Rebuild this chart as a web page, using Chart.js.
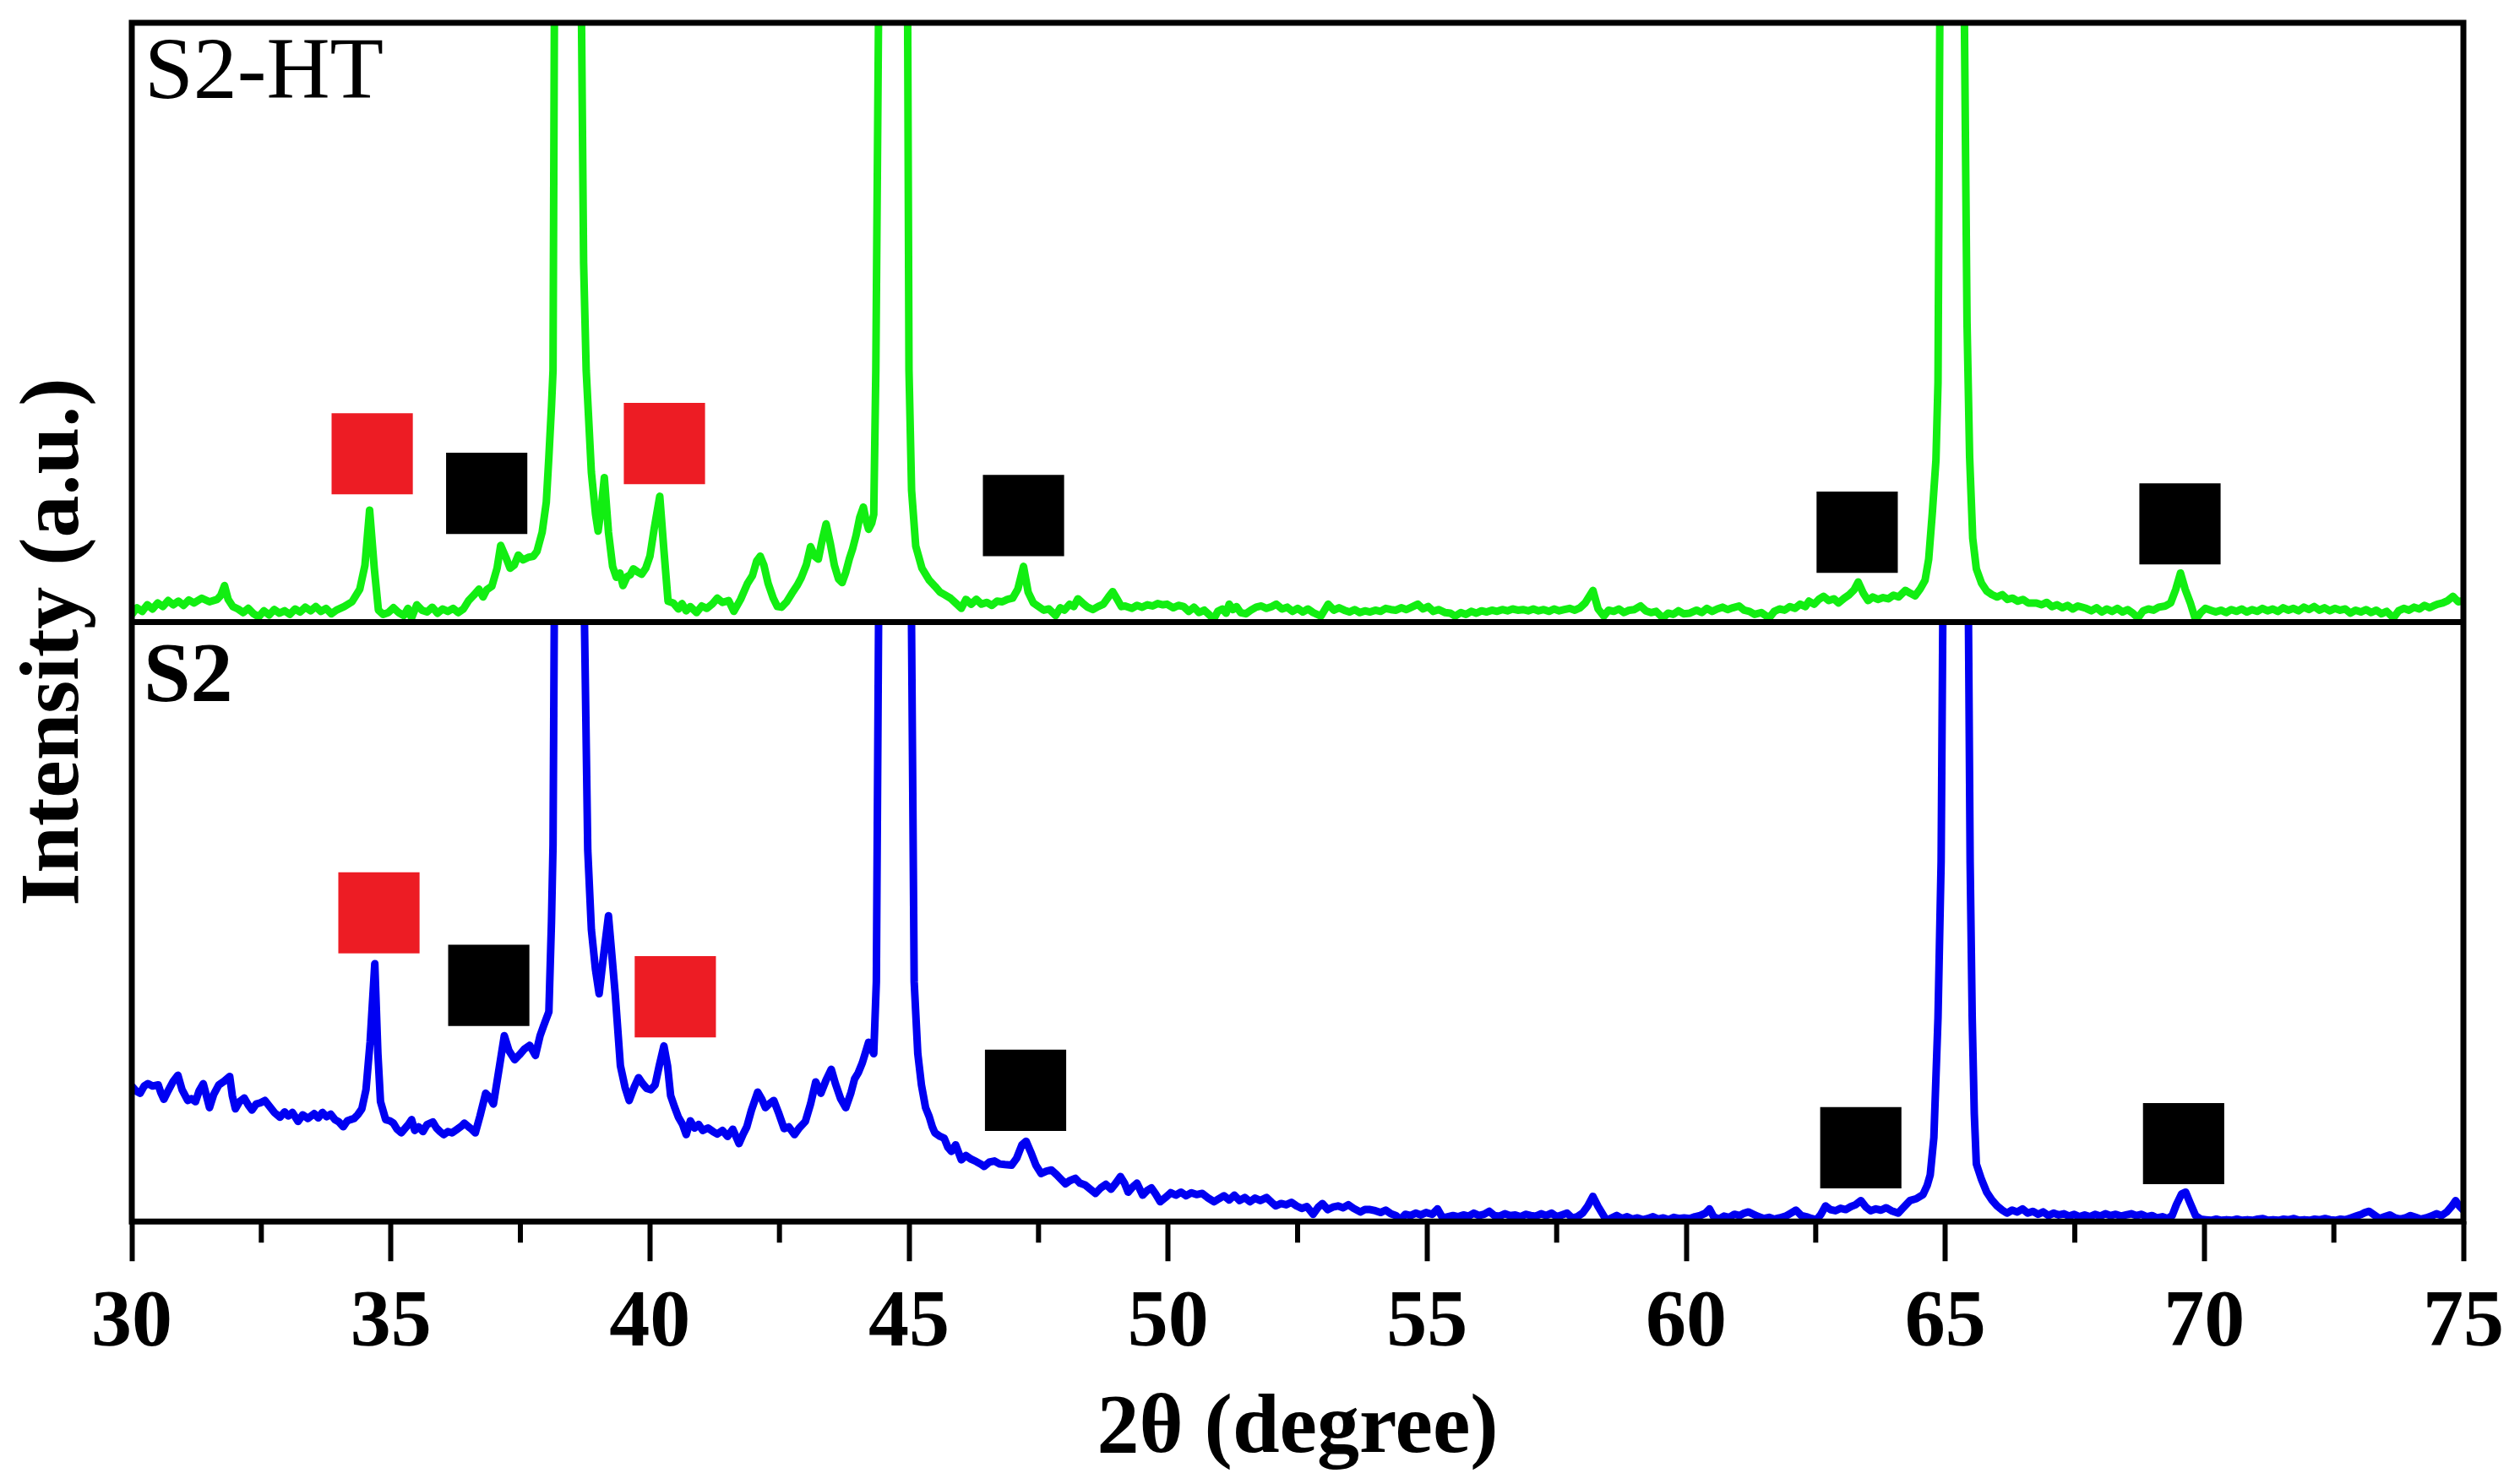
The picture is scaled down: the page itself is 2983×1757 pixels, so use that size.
<!DOCTYPE html>
<html>
<head>
<meta charset="utf-8">
<title>XRD patterns S2 / S2-HT</title>
<script src="https://cdn.jsdelivr.net/npm/chart.js@4.4.1/dist/chart.umd.min.js"></script>
<style>
    html, body { margin: 0; padding: 0; background: #ffffff; }
    canvas { display: block; }
</style>
</head>
<body>
<canvas id="xrdChart" width="2983" height="1757" style="width:2983px;height:1757px"></canvas>
<script>
// x axis: 2theta range and tick marks
const xTickValues = [30, 35, 40, 45, 50, 55, 60, 65, 70, 75];
const minorTickValues = [32.5, 37.5, 42.5, 47.5, 52.5, 57.5, 62.5, 67.5, 72.5];

// S2-HT pattern (top panel), [2theta, intensity a.u.], panel runs 0..100
const s2htPattern = [
    [30.00, 1.3], [30.10, 2.4], [30.20, 1.8], [30.30, 2.9], [30.40, 2.2], [30.50, 3.2], [30.60, 2.6],
    [30.70, 3.6], [30.80, 2.9], [30.90, 3.5], [31.00, 2.8], [31.10, 3.7], [31.20, 3.2], [31.35, 4.0],
    [31.50, 3.4], [31.65, 3.8], [31.72, 4.5], [31.79, 6.1], [31.86, 3.8], [31.95, 2.6], [32.05, 2.2],
    [32.15, 1.6], [32.25, 2.3], [32.35, 1.4], [32.45, 0.9], [32.55, 1.9], [32.65, 1.2], [32.75, 2.1],
    [32.85, 1.5], [32.95, 1.9], [33.05, 1.3], [33.15, 2.2], [33.25, 1.7], [33.35, 2.5], [33.45, 1.9],
    [33.55, 2.6], [33.65, 1.8], [33.75, 2.3], [33.85, 1.4], [33.95, 2.0], [34.10, 2.6], [34.25, 3.4],
    [34.40, 5.5], [34.50, 9.5], [34.59, 18.7], [34.68, 9.0], [34.76, 2.0], [34.85, 1.3], [34.95, 1.6],
    [35.05, 2.4], [35.15, 1.6], [35.25, 1.1], [35.33, 2.3], [35.40, 0.7], [35.50, 2.9], [35.60, 2.0],
    [35.70, 1.7], [35.80, 2.5], [35.90, 1.5], [36.00, 2.2], [36.10, 1.8], [36.20, 2.3], [36.30, 1.6],
    [36.40, 2.2], [36.50, 3.6], [36.60, 4.5], [36.70, 5.5], [36.78, 4.2], [36.85, 5.4], [36.95, 6.0],
    [37.05, 9.0], [37.12, 12.8], [37.22, 10.8], [37.30, 9.0], [37.38, 9.5], [37.46, 11.2], [37.55, 10.4],
    [37.65, 10.8], [37.75, 11.0], [37.82, 11.8], [37.92, 15.0], [38.00, 20.0], [38.05, 27.6], [38.10, 36.0],
    [38.13, 42.0], [38.16, 110], [38.42, 450], [38.67, 110], [38.72, 60.0], [38.77, 42.0], [38.87, 25.0],
    [38.95, 18.0], [39.00, 15.2], [39.06, 19.0], [39.12, 24.1], [39.20, 15.0], [39.28, 9.3], [39.35, 7.5],
    [39.42, 8.2], [39.48, 6.1], [39.56, 7.6], [39.62, 7.9], [39.68, 8.9], [39.76, 8.4], [39.84, 8.0],
    [39.92, 9.0], [40.00, 11.0], [40.08, 15.5], [40.19, 21.0], [40.27, 12.0], [40.35, 3.5], [40.45, 3.2],
    [40.55, 2.2], [40.62, 3.1], [40.70, 1.9], [40.78, 2.6], [40.90, 1.6], [41.00, 2.7], [41.10, 2.3],
    [41.20, 3.0], [41.30, 4.0], [41.40, 3.3], [41.52, 3.6], [41.62, 1.8], [41.75, 3.8], [41.88, 6.4],
    [41.98, 7.8], [42.06, 10.2], [42.13, 11.0], [42.20, 9.5], [42.28, 6.5], [42.38, 4.0], [42.46, 2.6],
    [42.54, 2.5], [42.64, 3.4], [42.74, 4.8], [42.84, 6.1], [42.92, 7.4], [43.02, 9.6], [43.10, 12.6],
    [43.18, 11.0], [43.25, 10.5], [43.32, 13.5], [43.40, 16.4], [43.48, 13.2], [43.56, 9.5], [43.64, 7.2],
    [43.71, 6.6], [43.78, 8.3], [43.85, 10.6], [43.91, 12.2], [43.98, 14.5], [44.05, 17.5], [44.12, 19.2],
    [44.17, 17.0], [44.22, 15.5], [44.28, 16.5], [44.32, 18.0], [44.36, 42.0], [44.42, 110], [44.70, 450],
    [44.97, 110], [45.00, 42.0], [45.05, 22.0], [45.13, 12.7], [45.25, 9.0], [45.39, 7.0], [45.50, 6.0],
    [45.60, 5.0], [45.68, 4.6], [45.80, 4.0], [45.90, 3.2], [46.01, 2.3], [46.10, 3.8], [46.20, 3.0],
    [46.30, 3.8], [46.40, 3.0], [46.50, 3.3], [46.60, 2.8], [46.70, 3.5], [46.80, 3.4], [46.90, 3.8],
    [47.00, 4.0], [47.10, 5.5], [47.21, 9.3], [47.30, 5.0], [47.40, 3.2], [47.50, 2.6], [47.60, 2.0],
    [47.70, 2.2], [47.83, 1.1], [47.92, 2.4], [48.00, 2.0], [48.10, 3.0], [48.18, 2.6], [48.26, 3.9],
    [48.35, 3.2], [48.45, 2.5], [48.55, 2.1], [48.65, 2.6], [48.75, 3.0], [48.85, 4.2], [48.93, 5.1],
    [49.02, 3.8], [49.10, 2.6], [49.17, 2.7], [49.30, 2.3], [49.40, 2.8], [49.50, 2.5], [49.60, 2.9],
    [49.70, 2.7], [49.80, 3.1], [49.90, 2.9], [49.98, 3.0], [50.10, 2.4], [50.20, 2.8], [50.30, 2.6],
    [50.40, 1.8], [50.50, 2.5], [50.60, 1.6], [50.70, 2.0], [50.80, 1.2], [50.88, 0.5], [50.96, 1.8],
    [51.05, 2.2], [51.12, 1.5], [51.18, 3.0], [51.25, 2.1], [51.32, 2.6], [51.40, 1.6], [51.50, 1.4],
    [51.60, 2.0], [51.70, 2.5], [51.80, 2.7], [51.90, 2.3], [52.00, 2.6], [52.09, 3.0], [52.20, 2.2],
    [52.30, 2.5], [52.40, 1.8], [52.50, 2.3], [52.60, 1.7], [52.70, 2.2], [52.80, 1.6], [52.95, 1.0],
    [53.09, 3.0], [53.20, 2.0], [53.30, 2.4], [53.40, 2.0], [53.50, 1.7], [53.60, 2.1], [53.70, 1.6],
    [53.80, 1.9], [53.90, 1.7], [54.00, 2.0], [54.10, 1.8], [54.20, 2.3], [54.30, 2.1], [54.40, 2.0],
    [54.50, 2.4], [54.60, 2.1], [54.70, 2.5], [54.82, 3.0], [54.92, 2.2], [55.02, 2.6], [55.12, 1.8],
    [55.22, 2.1], [55.35, 1.6], [55.45, 1.5], [55.54, 1.0], [55.65, 1.6], [55.75, 1.3], [55.85, 1.8],
    [55.95, 1.5], [56.05, 1.9], [56.15, 1.7], [56.25, 2.0], [56.35, 1.8], [56.45, 2.1], [56.55, 1.9],
    [56.65, 2.2], [56.75, 2.0], [56.85, 2.1], [56.95, 1.9], [57.05, 2.2], [57.15, 1.9], [57.25, 2.1],
    [57.35, 1.8], [57.45, 2.2], [57.55, 1.9], [57.65, 2.1], [57.75, 2.3], [57.85, 2.0], [57.95, 2.4],
    [58.05, 3.2], [58.20, 5.3], [58.30, 2.2], [58.41, 1.0], [58.50, 2.0], [58.60, 1.8], [58.70, 2.2],
    [58.80, 1.6], [58.90, 2.0], [59.00, 2.1], [59.12, 2.7], [59.22, 1.9], [59.32, 1.6], [59.42, 1.8],
    [59.55, 0.7], [59.65, 1.5], [59.75, 1.3], [59.85, 1.9], [59.95, 1.4], [60.07, 1.5], [60.20, 2.0],
    [60.30, 1.6], [60.40, 2.3], [60.50, 1.8], [60.60, 2.2], [60.70, 2.5], [60.80, 2.1], [60.90, 2.4],
    [61.02, 2.7], [61.12, 2.0], [61.22, 1.8], [61.32, 1.3], [61.45, 1.6], [61.60, 0.7], [61.70, 1.8],
    [61.80, 2.2], [61.90, 2.0], [62.00, 2.6], [62.10, 2.3], [62.20, 3.0], [62.30, 2.6], [62.37, 3.5],
    [62.47, 3.0], [62.56, 3.8], [62.65, 4.3], [62.75, 3.6], [62.85, 3.9], [62.94, 3.2], [63.05, 4.0],
    [63.15, 4.6], [63.24, 5.4], [63.32, 6.7], [63.42, 4.8], [63.51, 3.6], [63.60, 4.2], [63.70, 3.8],
    [63.80, 4.1], [63.90, 3.9], [64.00, 4.5], [64.10, 4.2], [64.23, 5.3], [64.33, 4.8], [64.42, 4.4],
    [64.52, 5.6], [64.61, 7.0], [64.68, 10.5], [64.75, 18.2], [64.82, 27.0], [64.86, 40.0], [64.90, 110],
    [65.13, 450], [65.36, 110], [65.42, 50.0], [65.47, 27.6], [65.53, 14.0], [65.60, 8.9], [65.70, 6.5],
    [65.80, 5.2], [65.90, 4.6], [66.00, 4.2], [66.10, 4.6], [66.20, 3.8], [66.30, 4.0], [66.40, 3.5],
    [66.50, 3.8], [66.60, 3.2], [66.76, 3.2], [66.86, 2.9], [66.96, 3.3], [67.06, 2.6], [67.16, 2.9],
    [67.26, 2.4], [67.36, 2.8], [67.46, 2.2], [67.56, 2.7], [67.72, 2.3], [67.82, 1.9], [67.92, 2.4],
    [68.02, 1.7], [68.12, 2.2], [68.22, 1.8], [68.32, 2.3], [68.42, 1.7], [68.52, 2.1], [68.62, 1.5],
    [68.72, 0.7], [68.82, 1.9], [68.92, 2.2], [69.02, 2.0], [69.12, 2.5], [69.25, 2.7], [69.35, 3.2],
    [69.45, 5.5], [69.54, 8.2], [69.63, 5.5], [69.73, 3.2], [69.83, 0.4], [69.93, 1.6], [70.02, 2.3],
    [70.12, 2.0], [70.22, 1.7], [70.32, 2.0], [70.42, 1.6], [70.52, 2.1], [70.62, 1.8], [70.72, 2.2],
    [70.82, 1.7], [70.92, 2.1], [71.02, 1.8], [71.12, 2.3], [71.22, 1.9], [71.32, 2.2], [71.42, 1.8],
    [71.52, 2.4], [71.62, 2.0], [71.72, 2.3], [71.82, 1.9], [71.92, 2.5], [72.02, 2.1], [72.12, 2.6],
    [72.22, 2.0], [72.32, 2.4], [72.42, 1.9], [72.52, 2.3], [72.62, 2.0], [72.72, 2.2], [72.82, 1.5],
    [72.92, 2.0], [73.02, 1.7], [73.12, 2.1], [73.22, 1.6], [73.32, 2.0], [73.42, 1.4], [73.52, 1.8],
    [73.65, 0.7], [73.75, 1.9], [73.85, 2.3], [73.95, 2.0], [74.05, 2.5], [74.15, 2.2], [74.25, 2.8],
    [74.35, 2.4], [74.42, 2.7], [74.50, 3.0], [74.60, 3.2], [74.70, 3.6], [74.80, 4.3], [74.90, 3.4],
    [75.00, 3.6]
];

// S2 pattern (bottom panel), [2theta, intensity a.u.], panel runs 0..100
const s2Pattern = [
    [30.00, 22.6], [30.08, 21.8], [30.16, 21.4], [30.24, 22.6], [30.31, 23.0], [30.40, 22.6], [30.51, 22.8],
    [30.56, 21.5], [30.62, 20.4], [30.70, 21.8], [30.80, 23.4], [30.89, 24.4], [30.97, 22.0], [31.08, 20.2],
    [31.15, 20.5], [31.23, 20.0], [31.30, 21.8], [31.38, 23.0], [31.44, 21.0], [31.50, 19.0], [31.58, 21.2],
    [31.68, 22.8], [31.78, 23.4], [31.89, 24.2], [31.94, 21.0], [32.00, 18.8], [32.08, 20.0], [32.17, 20.6],
    [32.25, 19.4], [32.32, 18.6], [32.40, 19.6], [32.48, 19.8], [32.57, 20.2], [32.65, 19.3], [32.75, 18.2],
    [32.86, 17.4], [32.95, 18.3], [33.02, 17.6], [33.10, 18.2], [33.21, 16.7], [33.30, 17.8], [33.40, 17.2],
    [33.52, 18.0], [33.60, 17.3], [33.68, 18.2], [33.76, 17.5], [33.84, 17.9], [33.92, 17.0], [34.00, 16.6],
    [34.08, 15.8], [34.16, 16.8], [34.22, 17.0], [34.29, 17.2], [34.36, 17.8], [34.44, 18.8], [34.52, 22.0],
    [34.60, 30.0], [34.69, 43.0], [34.75, 28.0], [34.80, 20.0], [34.90, 17.0], [34.98, 16.8], [35.05, 16.4],
    [35.12, 15.4], [35.20, 14.8], [35.28, 15.6], [35.34, 16.2], [35.40, 17.0], [35.46, 15.2], [35.54, 15.8],
    [35.62, 15.0], [35.70, 16.2], [35.81, 16.6], [35.88, 15.6], [35.95, 15.0], [36.02, 14.5], [36.10, 15.0],
    [36.18, 14.8], [36.28, 15.4], [36.36, 15.9], [36.42, 16.4], [36.50, 15.8], [36.56, 15.4], [36.63, 14.8],
    [36.72, 17.6], [36.83, 21.4], [36.90, 20.8], [36.98, 19.6], [37.08, 25.0], [37.19, 31.0], [37.28, 28.5],
    [37.39, 27.0], [37.48, 27.8], [37.58, 28.8], [37.68, 29.4], [37.79, 27.7], [37.88, 31.0], [37.95, 32.7],
    [38.05, 35.0], [38.10, 50.0], [38.13, 62.8], [38.16, 110], [38.44, 450], [38.72, 110], [38.80, 62.0],
    [38.87, 48.7], [38.95, 42.0], [39.02, 38.0], [39.10, 44.0], [39.20, 51.0], [39.27, 44.0], [39.33, 38.0],
    [39.43, 26.0], [39.52, 22.4], [39.60, 20.2], [39.70, 22.5], [39.78, 24.0], [39.86, 23.0], [39.94, 22.2],
    [40.02, 22.0], [40.10, 22.8], [40.18, 26.0], [40.27, 29.3], [40.34, 26.0], [40.40, 21.0], [40.48, 19.0],
    [40.55, 17.4], [40.63, 16.2], [40.70, 14.5], [40.78, 16.8], [40.86, 15.6], [40.94, 16.2], [41.02, 15.2],
    [41.12, 15.6], [41.22, 15.0], [41.30, 14.6], [41.40, 15.2], [41.50, 14.2], [41.60, 15.4], [41.72, 13.0],
    [41.80, 14.6], [41.87, 15.8], [41.96, 18.6], [42.08, 21.6], [42.16, 20.4], [42.23, 19.0], [42.30, 19.6],
    [42.39, 20.2], [42.48, 18.2], [42.59, 15.5], [42.68, 15.8], [42.79, 14.5], [42.88, 15.6], [43.00, 16.7],
    [43.10, 19.6], [43.20, 23.3], [43.30, 21.4], [43.40, 23.6], [43.50, 25.4], [43.58, 23.0], [43.68, 20.5],
    [43.78, 19.0], [43.88, 21.5], [43.95, 23.8], [44.02, 24.8], [44.10, 26.5], [44.22, 29.9], [44.32, 28.0],
    [44.37, 40.0], [44.42, 110], [44.74, 450], [45.04, 110], [45.10, 40.0], [45.17, 28.0], [45.24, 22.8],
    [45.32, 19.0], [45.39, 17.5], [45.45, 15.8], [45.50, 14.8], [45.60, 14.2], [45.68, 13.9], [45.75, 12.4],
    [45.82, 11.7], [45.90, 12.8], [46.01, 10.3], [46.10, 11.0], [46.20, 10.4], [46.30, 10.0], [46.38, 9.6],
    [46.45, 9.2], [46.55, 9.9], [46.65, 10.1], [46.75, 9.6], [46.85, 9.5], [46.98, 9.4], [47.08, 10.6],
    [47.18, 12.8], [47.26, 13.4], [47.35, 11.6], [47.45, 9.4], [47.55, 8.0], [47.65, 8.4], [47.75, 8.6],
    [47.85, 7.8], [47.94, 7.0], [48.02, 6.3], [48.10, 6.8], [48.21, 7.2], [48.30, 6.4], [48.40, 6.1],
    [48.50, 5.4], [48.60, 4.7], [48.70, 5.6], [48.80, 6.2], [48.90, 5.4], [49.00, 6.5], [49.08, 7.5],
    [49.16, 6.4], [49.23, 4.9], [49.32, 5.8], [49.40, 6.4], [49.51, 4.4], [49.60, 5.2], [49.68, 5.6],
    [49.76, 4.6], [49.85, 3.3], [49.95, 4.0], [50.05, 4.8], [50.15, 4.4], [50.25, 4.9], [50.35, 4.3],
    [50.45, 4.8], [50.55, 4.5], [50.66, 4.7], [50.76, 4.0], [50.89, 3.3], [50.98, 3.8], [51.08, 4.3],
    [51.18, 3.6], [51.28, 4.4], [51.38, 3.5], [51.48, 4.0], [51.58, 3.3], [51.68, 3.9], [51.78, 3.5],
    [51.90, 4.0], [52.00, 3.2], [52.08, 2.6], [52.18, 3.0], [52.28, 2.8], [52.38, 3.2], [52.48, 2.6],
    [52.58, 2.2], [52.68, 2.5], [52.80, 1.2], [52.90, 2.4], [52.98, 3.0], [53.08, 2.0], [53.18, 2.4],
    [53.28, 2.6], [53.38, 2.3], [53.48, 2.8], [53.58, 2.2], [53.71, 1.6], [53.80, 2.0], [53.90, 2.0],
    [54.00, 1.8], [54.10, 1.5], [54.20, 1.9], [54.30, 1.3], [54.40, 1.0], [54.48, 0.3], [54.58, 1.2],
    [54.68, 1.0], [54.78, 1.4], [54.88, 1.1], [54.98, 1.5], [55.10, 1.2], [55.20, 2.1], [55.30, 0.6],
    [55.40, 0.8], [55.50, 1.0], [55.60, 0.8], [55.70, 1.1], [55.80, 0.9], [55.90, 1.4], [56.00, 1.0],
    [56.10, 1.2], [56.20, 1.7], [56.30, 1.0], [56.40, 0.9], [56.50, 1.3], [56.60, 1.0], [56.70, 1.1],
    [56.80, 0.8], [56.90, 1.2], [57.00, 1.0], [57.10, 0.9], [57.20, 1.3], [57.30, 1.0], [57.40, 1.4],
    [57.50, 0.8], [57.60, 1.1], [57.70, 1.4], [57.80, 0.6], [57.90, 0.8], [58.00, 1.4], [58.10, 2.6],
    [58.20, 4.2], [58.30, 2.5], [58.46, 0.2], [58.56, 0.6], [58.66, 1.0], [58.76, 0.5], [58.86, 0.8],
    [58.96, 0.4], [59.06, 0.6], [59.16, 0.3], [59.26, 0.5], [59.36, 0.8], [59.46, 0.4], [59.56, 0.6],
    [59.66, 0.3], [59.76, 0.7], [59.86, 0.5], [59.96, 0.6], [60.07, 0.5], [60.17, 0.8], [60.27, 1.0],
    [60.37, 1.4], [60.45, 2.1], [60.53, 0.8], [60.63, 0.4], [60.73, 0.9], [60.83, 0.7], [60.93, 1.2],
    [61.03, 1.0], [61.12, 1.4], [61.20, 1.6], [61.30, 1.2], [61.40, 0.8], [61.50, 0.5], [61.60, 0.7],
    [61.70, 0.4], [61.80, 0.6], [61.92, 0.9], [62.02, 1.4], [62.12, 1.9], [62.22, 1.0], [62.32, 0.8],
    [62.42, 0.5], [62.52, 0.3], [62.60, 1.2], [62.69, 2.6], [62.78, 2.0], [62.88, 1.8], [62.98, 2.2],
    [63.08, 2.0], [63.18, 2.5], [63.27, 2.8], [63.37, 3.5], [63.47, 2.4], [63.56, 1.8], [63.66, 2.1],
    [63.76, 1.9], [63.86, 2.3], [63.96, 1.8], [64.09, 1.4], [64.20, 2.4], [64.32, 3.5], [64.44, 3.8],
    [64.57, 4.5], [64.65, 6.0], [64.71, 7.8], [64.78, 14.0], [64.82, 24.0], [64.86, 34.0], [64.92, 60.0],
    [64.96, 110], [65.20, 450], [65.44, 110], [65.48, 60.0], [65.52, 34.0], [65.56, 18.0], [65.60, 9.6],
    [65.70, 7.0], [65.80, 4.9], [65.90, 3.6], [66.00, 2.6], [66.10, 1.9], [66.19, 1.4], [66.29, 1.9],
    [66.39, 1.6], [66.49, 2.1], [66.59, 1.4], [66.69, 1.7], [66.79, 1.2], [66.89, 1.6], [66.99, 1.0],
    [67.09, 1.4], [67.19, 1.1], [67.29, 1.3], [67.39, 0.9], [67.49, 1.2], [67.59, 0.8], [67.69, 1.1],
    [67.79, 0.8], [67.89, 1.2], [67.99, 0.9], [68.09, 1.3], [68.19, 1.0], [68.29, 1.2], [68.39, 0.9],
    [68.49, 1.1], [68.59, 1.3], [68.69, 1.0], [68.79, 1.2], [68.89, 0.8], [68.99, 1.0], [69.09, 0.6],
    [69.19, 0.8], [69.29, 0.5], [69.38, 1.0], [69.46, 2.8], [69.56, 4.6], [69.64, 4.9], [69.72, 3.2],
    [69.83, 1.0], [69.93, 0.4], [70.03, 0.3], [70.13, 0.2], [70.23, 0.4], [70.33, 0.2], [70.43, 0.3],
    [70.53, 0.2], [70.63, 0.4], [70.73, 0.2], [70.83, 0.3], [70.93, 0.2], [71.03, 0.4], [71.13, 0.5],
    [71.23, 0.2], [71.33, 0.3], [71.43, 0.2], [71.53, 0.4], [71.63, 0.3], [71.73, 0.5], [71.83, 0.2],
    [71.93, 0.3], [72.03, 0.2], [72.13, 0.4], [72.23, 0.3], [72.33, 0.5], [72.43, 0.3], [72.53, 0.2],
    [72.63, 0.4], [72.73, 0.3], [72.83, 0.6], [72.93, 0.9], [73.03, 1.2], [73.10, 1.5], [73.18, 1.7],
    [73.28, 1.1], [73.38, 0.5], [73.48, 0.8], [73.58, 1.1], [73.68, 0.6], [73.78, 0.4], [73.88, 0.6],
    [73.98, 1.0], [74.08, 0.7], [74.18, 0.4], [74.28, 0.6], [74.38, 0.9], [74.48, 1.3], [74.58, 1.0],
    [74.68, 1.6], [74.78, 2.6], [74.85, 3.5], [74.92, 2.6], [75.00, 1.9]
];

// phase markers (square symbols) above the peaks, [2theta, height]
const s2htRedMarks = [[34.64, 28.1], [40.28, 29.8]];
const s2htBlackMarks = [[36.85, 21.5], [47.21, 17.8], [63.30, 15.0], [69.53, 16.4]];
const s2RedMarks = [[34.77, 51.5], [40.49, 37.5]];
const s2BlackMarks = [[36.89, 39.4], [47.25, 21.9], [63.37, 12.3], [69.60, 13.0]];

const toPoints = (pairs) => pairs.map(([x, y]) => ({ x, y }));

// keep each trace inside its own panel (the big peaks run off the top)
const panelClip = {
    id: 'panelClip',
    beforeDatasetDraw(chart, args) {
        const { ctx, chartArea } = chart;
        const yScale = args.meta.yScale;
        ctx.save();
        ctx.beginPath();
        ctx.rect(chartArea.left, yScale.top, chartArea.right - chartArea.left, yScale.bottom - yScale.top);
        ctx.clip();
    },
    afterDatasetDraw(chart) {
        chart.ctx.restore();
    }
};

// frame, panel divider, minor ticks and the sample names
const panelFrame = {
    id: 'panelFrame',
    afterDatasetsDraw(chart) {
        const { ctx, chartArea: a, scales } = chart;
        ctx.save();
        ctx.strokeStyle = '#000';
        ctx.lineWidth = 7;
        ctx.strokeRect(a.left, a.top, a.right - a.left, a.bottom - a.top);
        ctx.beginPath();
        ctx.moveTo(a.left, scales.yT.bottom);
        ctx.lineTo(a.right, scales.yT.bottom);
        ctx.stroke();

        ctx.lineWidth = 6;
        ctx.beginPath();
        minorTickValues.forEach((v) => {
            const px = scales.x.getPixelForValue(v);
            ctx.moveTo(px, a.bottom);
            ctx.lineTo(px, a.bottom + 25);
        });
        ctx.stroke();

        ctx.fillStyle = '#000';
        ctx.textBaseline = 'alphabetic';
        ctx.textAlign = 'left';
        ctx.font = '104px "Liberation Serif"';
        ctx.fillText('S2-HT', a.left + 15, a.top + 89);
        ctx.font = 'bold 100px "Liberation Serif"';
        ctx.fillText('S2', a.left + 14, scales.yB.top + 92);
        ctx.restore();
    }
};

const serif = 'Liberation Serif';
const hiddenAxis = {
    grid: { display: false, drawTicks: false },
    ticks: { display: false },
    border: { display: false }
};

function markerSet(points, color, axis) {
    return {
        type: 'scatter',
        data: toPoints(points),
        yAxisID: axis,
        pointStyle: 'rect',
        pointRadius: 68,
        pointHoverRadius: 68,
        backgroundColor: color,
        borderWidth: 0
    };
}

const ctx = document.getElementById('xrdChart').getContext('2d');
new Chart(ctx, {
    type: 'line',
    data: {
        datasets: [
            {
                label: 'S2-HT',
                data: toPoints(s2htPattern),
                yAxisID: 'yT',
                borderColor: '#12ee12',
                borderWidth: 9,
                borderJoinStyle: 'round',
                pointRadius: 0,
                tension: 0
            },
            {
                label: 'S2',
                data: toPoints(s2Pattern),
                yAxisID: 'yB',
                borderColor: '#0000f2',
                borderWidth: 9,
                borderJoinStyle: 'round',
                pointRadius: 0,
                tension: 0
            },
            markerSet(s2htRedMarks, '#ed1c24', 'yT'),
            markerSet(s2htBlackMarks, '#000000', 'yT'),
            markerSet(s2RedMarks, '#ed1c24', 'yB'),
            markerSet(s2BlackMarks, '#000000', 'yB')
        ]
    },
    options: {
        responsive: false,
        animation: false,
        devicePixelRatio: 1,
        layout: {
            autoPadding: false, // big square markers would otherwise push the plot inwards
            padding: { top: 27, right: 67, bottom: 14, left: 0 }
        },
        plugins: {
            legend: { display: false },
            tooltip: { enabled: false }
        },
        scales: {
            x: {
                type: 'linear',
                min: 30,
                max: 75,
                afterBuildTicks: (scale) => {
                    scale.ticks = xTickValues.map((v) => ({ value: v }));
                },
                grid: {
                    drawOnChartArea: false,
                    drawTicks: true,
                    tickLength: 47,
                    tickWidth: 6,
                    tickColor: '#000'
                },
                border: { display: false },
                ticks: {
                    color: '#000',
                    padding: 0,
                    maxRotation: 0,
                    autoSkip: false,
                    // tall line box instead of tick padding, so the end labels don't squeeze the plot sideways
                    font: { family: serif, size: 96, weight: 'bold', lineHeight: 1.56 }
                },
                title: {
                    display: true,
                    text: '2θ (degree)',
                    color: '#000',
                    padding: { top: 0, bottom: 0 },
                    font: { family: serif, size: 100, weight: 'bold', lineHeight: 1 }
                }
            },
            yT: {
                type: 'linear',
                position: 'left',
                stack: 'panels',
                stackWeight: 1,
                weight: 2,
                min: 0,
                max: 100,
                ...hiddenAxis
            },
            yB: {
                type: 'linear',
                position: 'left',
                stack: 'panels',
                stackWeight: 1,
                weight: 1,
                min: 0,
                max: 100,
                ...hiddenAxis
            },
            // empty strip above the title axis: moves the y title a little below the middle
            yPad: {
                type: 'linear',
                position: 'left',
                stack: 'ytitle',
                stackWeight: 0.033,
                weight: 11,
                display: true,
                ...hiddenAxis
            },
            yTitle: {
                type: 'linear',
                position: 'left',
                stack: 'ytitle',
                stackWeight: 0.967,
                weight: 10,
                display: true,
                ...hiddenAxis,
                title: {
                    display: true,
                    text: 'Intensity (a.u.)',
                    color: '#000',
                    padding: { top: 16, bottom: 40 },
                    font: { family: serif, size: 100, weight: 'bold', lineHeight: 1 }
                }
            }
        }
    },
    plugins: [panelClip, panelFrame]
});
</script>
</body>
</html>
